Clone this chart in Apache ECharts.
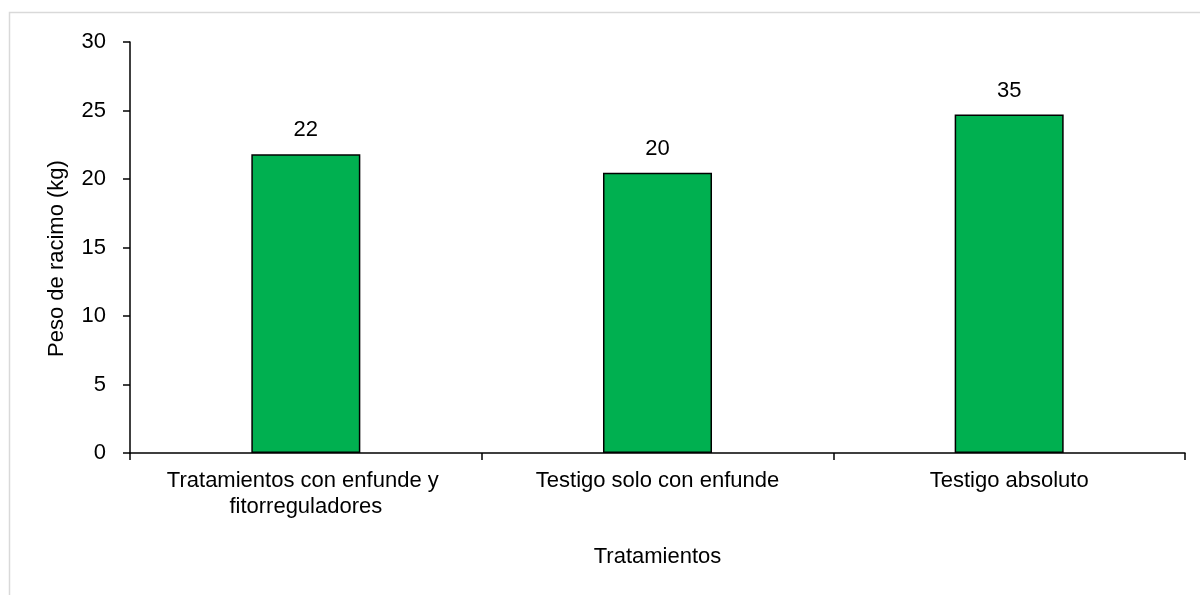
<!DOCTYPE html>
<html>
<head>
<meta charset="utf-8">
<script src="https://cdn.jsdelivr.net/npm/echarts@6/dist/echarts.min.js"></script>
<style>
html,body{margin:0;padding:0;background:#fff;}
#chart{width:1200px;height:595px;}
</style>
</head>
<body>
<div id="chart"></div>
<script>
const categories = ['Tratamientos con enfunde y fitorreguladores', 'Testigo solo con enfunde', 'Testigo absoluto'];
const values = [21.8, 20.45, 24.7];
const labelTexts = ['22', '20', '35'];
const yTicks = { min: 0, max: 30, interval: 5 };
const xName = 'Tratamientos';
const yName = 'Peso de racimo (kg)';

const FONT = '"Liberation Sans", Arial, sans-serif';
const FS = 22;

const chart = echarts.init(document.getElementById('chart'), null, { renderer: 'canvas' });
chart.setOption({
  animation: false,
  backgroundColor: '#ffffff',
  textStyle: { fontFamily: FONT },
  graphic: [{
    type: 'rect',
    shape: { x: 9.5, y: 12.5, width: 1400, height: 800 },
    style: { fill: 'none', stroke: '#d9d9d9', lineWidth: 1.5 },
    silent: true
  }],
  grid: { left: 130, right: 15, top: 42, bottom: 142, containLabel: false },
  xAxis: {
    type: 'category',
    data: categories,
    name: xName,
    nameLocation: 'middle',
    nameGap: 93,
    nameTextStyle: { fontSize: FS, color: '#000', fontFamily: FONT },
    axisLine: { lineStyle: { color: '#000', width: 1.5 } },
    axisTick: { show: true, length: 7, inside: false, lineStyle: { color: '#000', width: 1.5 } },
    axisLabel: {
      fontSize: FS, color: '#000', fontFamily: FONT, margin: 15,
      lineHeight: 26, width: 300, overflow: 'break', interval: 0
    },
    splitLine: { show: false }
  },
  yAxis: {
    type: 'value',
    min: yTicks.min, max: yTicks.max, interval: yTicks.interval,
    name: yName,
    nameLocation: 'middle',
    nameGap: 62,
    nameTextStyle: { fontSize: FS, color: '#000', fontFamily: FONT, padding: [0, 22, 0, 0] },
    axisLine: { show: true, lineStyle: { color: '#000', width: 1.5 } },
    axisTick: { show: true, length: 7, inside: false, lineStyle: { color: '#000', width: 1.5 } },
    axisLabel: { fontSize: FS, color: '#000', fontFamily: FONT, margin: 24 },
    splitLine: { show: false }
  },
  series: [{
    type: 'bar',
    data: values,
    barWidth: '31%',
    itemStyle: { color: '#00B050', borderColor: '#000', borderWidth: 1.5 },
    label: {
      show: true,
      position: 'top',
      distance: 13,
      fontSize: FS,
      color: '#000',
      fontFamily: FONT,
      formatter: function (p) { return labelTexts[p.dataIndex]; }
    }
  }]
});
</script>
</body>
</html>
